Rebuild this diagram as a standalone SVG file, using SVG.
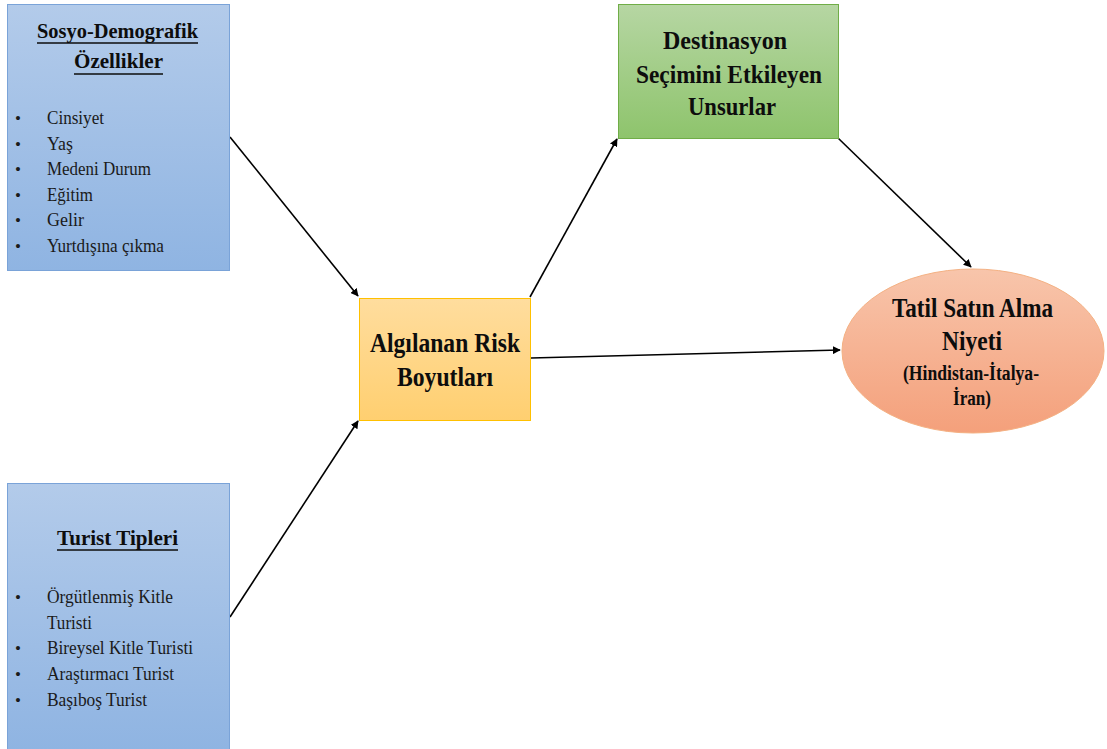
<svg xmlns="http://www.w3.org/2000/svg" width="1107" height="749" viewBox="0 0 1107 749">
<style>
.t{font-family:"Liberation Serif","Times New Roman",serif;font-weight:bold;fill:#0d0d0d;text-anchor:middle}
.ul{stroke:#0d0d0d;stroke-width:1.5}
.i{font-family:"Liberation Serif","Times New Roman",serif;font-size:18px;fill:#1a1a1a}
.b{font-family:"Liberation Serif","Times New Roman",serif;font-size:17px;fill:#1a1a1a}
.c{stroke:#000;stroke-width:1.6;fill:none;marker-end:url(#ah)}
</style>
<defs>
<linearGradient id="gb" x1="0" y1="0" x2="0" y2="1"><stop offset="0" stop-color="#b3cbea"/><stop offset="1" stop-color="#8fb4e2"/></linearGradient>
<linearGradient id="go" x1="0" y1="0" x2="0" y2="1"><stop offset="0" stop-color="#ffdd9e"/><stop offset="1" stop-color="#ffcf70"/></linearGradient>
<linearGradient id="gg" x1="0" y1="0" x2="0" y2="1"><stop offset="0" stop-color="#b6d6a3"/><stop offset="1" stop-color="#8ec46c"/></linearGradient>
<linearGradient id="ge" x1="0" y1="0" x2="0" y2="1"><stop offset="0" stop-color="#f8c5ab"/><stop offset="1" stop-color="#f4a07b"/></linearGradient>
<marker id="ah" viewBox="0 0 10 10" refX="9" refY="5" markerWidth="5" markerHeight="5" orient="auto" markerUnits="strokeWidth"><path d="M0,0 L10,5 L0,10 z" fill="#000"/></marker>
</defs>
<g id="connectors">
<line class="c" x1="230" y1="137" x2="358" y2="296"/>
<line class="c" x1="230" y1="617" x2="358" y2="421"/>
<line class="c" x1="530" y1="297" x2="617" y2="139"/>
<line class="c" x1="838" y1="138" x2="971" y2="267"/>
<line class="c" x1="531" y1="358" x2="840" y2="350"/>
</g>
<g id="sosyo">
<rect x="7.5" y="4.5" width="222" height="266" fill="url(#gb)" stroke="#7aa3d8" stroke-width="1"/>
<text class="t" x="117.5" y="38" font-size="22" textLength="161" lengthAdjust="spacingAndGlyphs">Sosyo-Demografik</text>
<line class="ul" x1="37" y1="43" x2="198" y2="43"/>
<text class="t" x="118.5" y="68" font-size="22" textLength="89" lengthAdjust="spacingAndGlyphs">Özellikler</text>
<line class="ul" x1="74" y1="74" x2="163" y2="74"/>
<g class="i">
<text class="b" x="15" y="124">•</text><text x="47" y="124" textLength="57" lengthAdjust="spacingAndGlyphs">Cinsiyet</text>
<text class="b" x="15" y="149.5">•</text><text x="47" y="149.5" textLength="26" lengthAdjust="spacingAndGlyphs">Yaş</text>
<text class="b" x="15" y="175">•</text><text x="47" y="175" textLength="104" lengthAdjust="spacingAndGlyphs">Medeni Durum</text>
<text class="b" x="15" y="200.5">•</text><text x="47" y="200.5" textLength="46" lengthAdjust="spacingAndGlyphs">Eğitim</text>
<text class="b" x="15" y="226">•</text><text x="47" y="226" textLength="37" lengthAdjust="spacingAndGlyphs">Gelir</text>
<text class="b" x="15" y="251.5">•</text><text x="47" y="251.5" textLength="117" lengthAdjust="spacingAndGlyphs">Yurtdışına çıkma</text>
</g>
</g>
<g id="turist">
<rect x="7.5" y="483.5" width="222" height="266" fill="url(#gb)" stroke="#7aa3d8" stroke-width="1"/>
<text class="t" x="117.5" y="545" font-size="22" textLength="121" lengthAdjust="spacingAndGlyphs">Turist Tipleri</text>
<line class="ul" x1="57" y1="550" x2="178" y2="550"/>
<g class="i">
<text class="b" x="15" y="603">•</text><text x="47" y="603" textLength="126" lengthAdjust="spacingAndGlyphs">Örgütlenmiş Kitle</text>
<text x="47" y="629" textLength="45" lengthAdjust="spacingAndGlyphs">Turisti</text>
<text class="b" x="15" y="654">•</text><text x="47" y="654" textLength="146" lengthAdjust="spacingAndGlyphs">Bireysel Kitle Turisti</text>
<text class="b" x="15" y="680">•</text><text x="47" y="680" textLength="127" lengthAdjust="spacingAndGlyphs">Araştırmacı Turist</text>
<text class="b" x="15" y="706">•</text><text x="47" y="706" textLength="100" lengthAdjust="spacingAndGlyphs">Başıboş Turist</text>
</g>
</g>
<g id="risk">
<rect x="359.5" y="298.5" width="171" height="122" fill="url(#go)" stroke="#ffc000" stroke-width="1"/>
<text class="t" x="445" y="352" font-size="27" textLength="150" lengthAdjust="spacingAndGlyphs">Algılanan Risk</text>
<text class="t" x="445" y="386" font-size="27" textLength="96" lengthAdjust="spacingAndGlyphs">Boyutları</text>
</g>
<g id="destinasyon">
<rect x="618.5" y="4.5" width="220" height="134" fill="url(#gg)" stroke="#70ad47" stroke-width="1"/>
<text class="t" x="725" y="49" font-size="25" textLength="124" lengthAdjust="spacingAndGlyphs">Destinasyon</text>
<text class="t" x="729" y="83" font-size="25" textLength="186" lengthAdjust="spacingAndGlyphs">Seçimini Etkileyen</text>
<text class="t" x="732" y="115" font-size="25" textLength="88" lengthAdjust="spacingAndGlyphs">Unsurlar</text>
</g>
<g id="tatil">
<ellipse cx="973" cy="351" rx="131" ry="82" fill="url(#ge)" stroke="#f4b183" stroke-width="1"/>
<text class="t" x="972.5" y="317" font-size="27" textLength="161" lengthAdjust="spacingAndGlyphs">Tatil Satın Alma</text>
<text class="t" x="972" y="350" font-size="27" textLength="60" lengthAdjust="spacingAndGlyphs">Niyeti</text>
<text class="t" x="971" y="380" font-size="20" textLength="136" lengthAdjust="spacingAndGlyphs">(Hindistan-İtalya-</text>
<text class="t" x="972" y="405" font-size="20" textLength="38" lengthAdjust="spacingAndGlyphs">İran)</text>
</g>
</svg>
